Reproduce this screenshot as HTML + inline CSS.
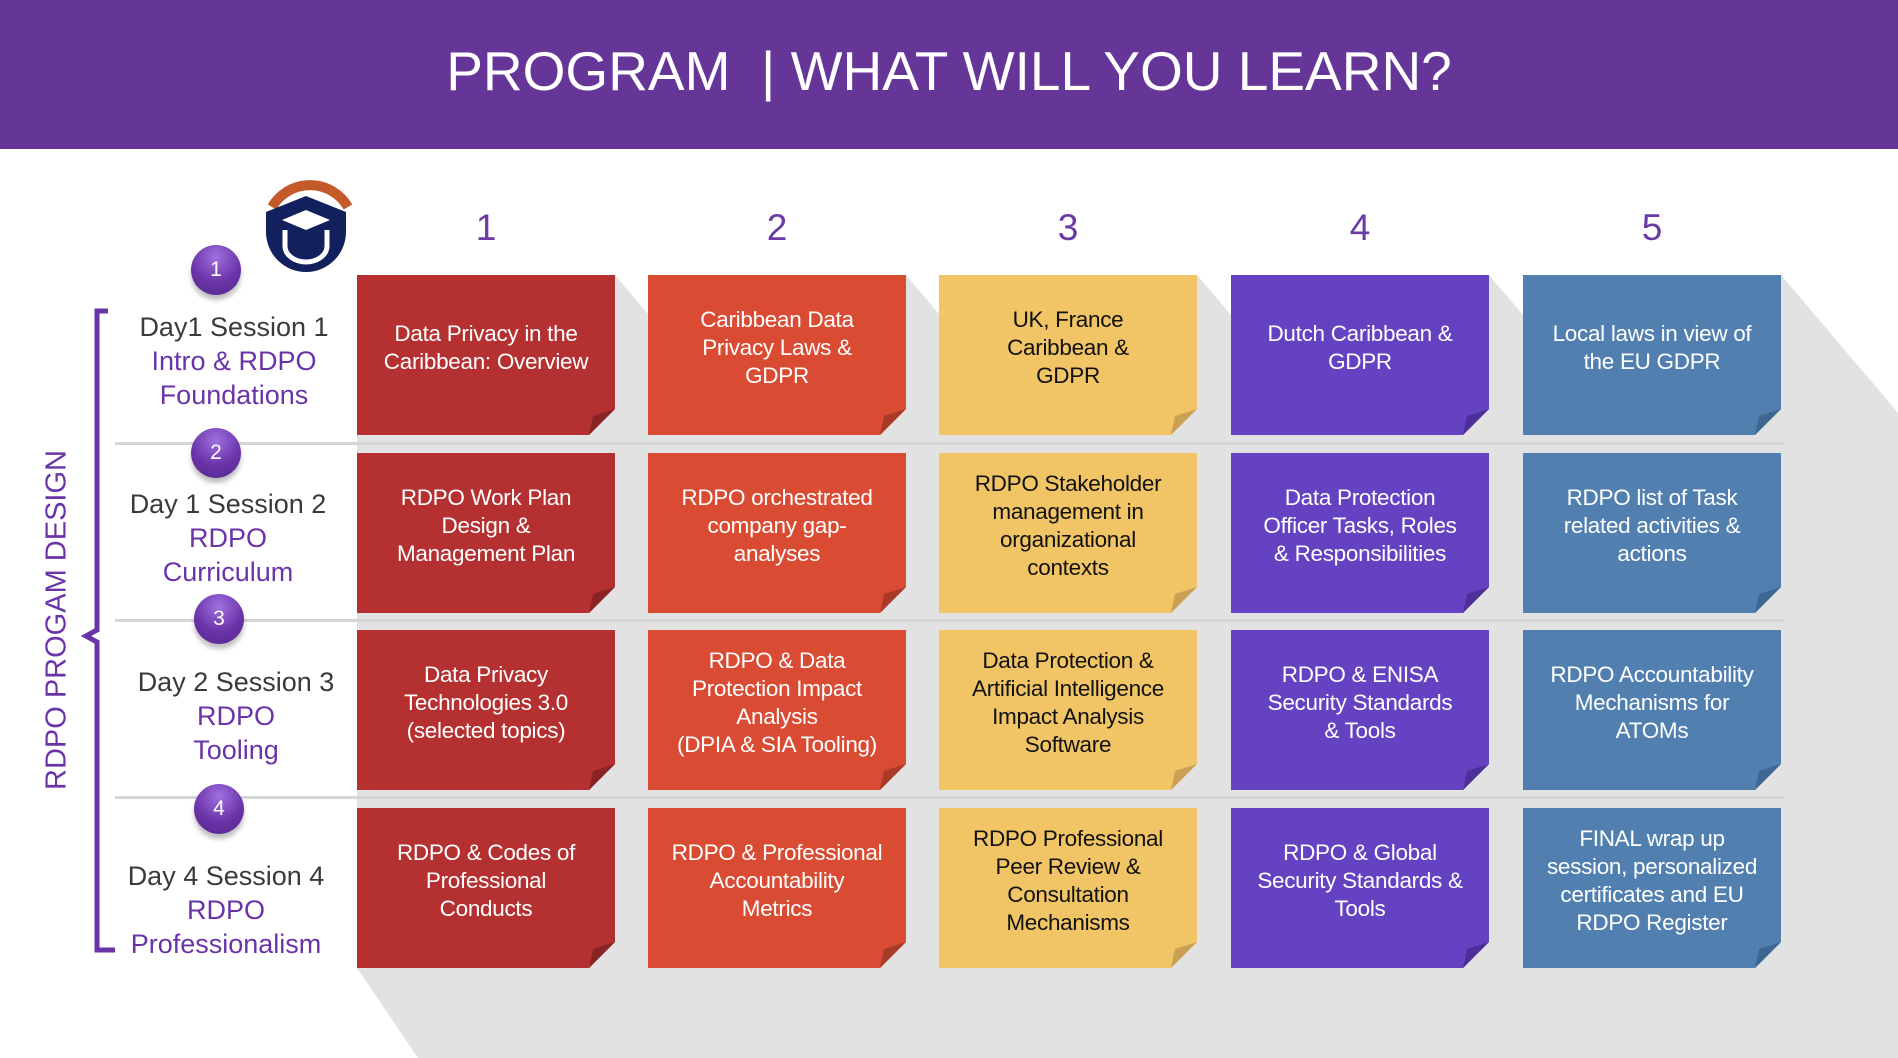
<!DOCTYPE html>
<html><head><meta charset="utf-8"><style>
*{margin:0;padding:0;box-sizing:border-box}
body{width:1898px;height:1058px;position:relative;overflow:hidden;background:#fff;font-family:"Liberation Sans","DejaVu Sans",sans-serif}
.hdr{position:absolute;left:0;top:0;width:1898px;height:149px;background:#663598;color:#fff;font-size:55px;text-align:center;line-height:142px}
.box{position:absolute;width:258px;height:160px;display:flex;align-items:center;justify-content:center;text-align:center;font-size:22.5px;line-height:28px;color:#fff;padding:0 4px 14px;white-space:nowrap;letter-spacing:-0.3px}
.num{position:absolute;top:207px;width:258px;text-align:center;font-size:37px;color:#6a3aa6}
.circ{position:absolute;width:50px;height:50px;border-radius:50%;background:radial-gradient(circle at 50% 25%,#a070e0,#6a34a8 55%,#55278e);color:#fff;font-size:21px;text-align:center;line-height:50px;box-shadow:0 5px 5px rgba(0,0,0,.25)}
.day{position:absolute;width:240px;text-align:center;font-size:27px;line-height:34px;color:#3a3a3a}
.day span{color:#6a34a8}
.line{position:absolute;left:115px;width:1670px;height:3px;background:#d6d6d6}
</style></head><body>
<svg width="1898" height="1058" style="position:absolute;left:0;top:0">
<g fill="#e2e2e2">
<polygon points="615,275 1280,1058 418,1058 357,968"/>
<polygon points="906,275 1571,1058 709,1058 648,968"/>
<polygon points="1197,275 1862,1058 1000,1058 939,968"/>
<polygon points="1489,275 2154,1058 1292,1058 1231,968"/>
<polygon points="1781,275 2446,1058 1584,1058 1523,968"/>
<rect x="357" y="330" width="1430" height="640"/>
</g>
<path d="M108,311 L97,311 L97,630 L86,636 L97,642 L97,950 L115,950" fill="none" stroke="#6a34a8" stroke-width="5"/>
<path d="M272,207 A44,44 0 0 1 348,207" fill="none" stroke="#c45a2a" stroke-width="10"/>
<path d="M266,212 L306,196 L346,212 L346,232 A40,40 0 0 1 266,232 Z" fill="#13205e"/>
<path d="M282,220 L306,210 L330,220 L306,230 Z" fill="#fff"/>
<path d="M285,230 L285,246 A21,16 0 0 0 327,246 L327,230" fill="none" stroke="#fff" stroke-width="5"/>
</svg>
<div class="hdr">PROGRAM &nbsp;| WHAT WILL YOU LEARN?</div>
<div style="position:absolute;left:57px;top:620px;transform:translate(-50%,-50%) rotate(-90deg);white-space:nowrap;font-size:29px;color:#6a34a8">RDPO PROGAM DESIGN</div>

<div class="line" style="top:442px"></div>
<div class="line" style="top:619px"></div>
<div class="line" style="top:796px"></div>

<div class="num" style="left:357px">1</div>
<div class="num" style="left:648px">2</div>
<div class="num" style="left:939px">3</div>
<div class="num" style="left:1231px">4</div>
<div class="num" style="left:1523px">5</div>

<div class="circ" style="left:191px;top:245px">1</div>
<div class="circ" style="left:191px;top:428px">2</div>
<div class="circ" style="left:194px;top:594px">3</div>
<div class="circ" style="left:194px;top:784px">4</div>

<div class="day" style="left:114px;top:310px">Day1 Session 1<br><span>Intro &amp; RDPO<br>Foundations</span></div>
<div class="day" style="left:108px;top:487px">Day 1 Session 2<br><span>RDPO<br>Curriculum</span></div>
<div class="day" style="left:116px;top:665px">Day 2 Session 3<br><span>RDPO<br>Tooling</span></div>
<div class="day" style="left:106px;top:859px">Day 4 Session 4<br><span>RDPO<br>Professionalism</span></div>

<div id="grid"></div>
<script>
var cols=[357,648,939,1231,1523],rows=[275,453,630,808];
var bg=['#b53030','#da4b33','#f1c566','#6442c2','#5180b0'];
var fold=['#8a2424','#a83a27','#c9a054','#4c2f98','#3d6690'];
var t=[
["Data Privacy in the<br>Caribbean: Overview","Caribbean Data<br>Privacy Laws &amp;<br>GDPR","UK, France<br>Caribbean &amp;<br>GDPR","Dutch Caribbean &amp;<br>GDPR","Local laws in view of<br>the EU GDPR"],
["RDPO Work Plan<br>Design &amp;<br>Management Plan","RDPO orchestrated<br>company gap-<br>analyses","RDPO Stakeholder<br>management in<br>organizational<br>contexts","Data Protection<br>Officer Tasks, Roles<br>&amp; Responsibilities","RDPO list of Task<br>related activities &amp;<br>actions"],
["Data Privacy<br>Technologies 3.0<br>(selected topics)","RDPO &amp; Data<br>Protection Impact<br>Analysis<br>(DPIA &amp; SIA Tooling)","Data Protection &amp;<br>Artificial Intelligence<br>Impact Analysis<br>Software","RDPO &amp; ENISA<br>Security Standards<br>&amp; Tools","RDPO Accountability<br>Mechanisms for<br>ATOMs"],
["RDPO &amp; Codes of<br>Professional<br>Conducts","RDPO &amp; Professional<br>Accountability<br>Metrics","RDPO Professional<br>Peer Review &amp;<br>Consultation<br>Mechanisms","RDPO &amp; Global<br>Security Standards &amp;<br>Tools","FINAL wrap up<br>session, personalized<br>certificates and EU<br>RDPO Register"]];
var h='';
for(var r=0;r<4;r++)for(var c=0;c<5;c++){
var x=cols[c],y=rows[r];
h+='<div class="box" style="left:'+x+'px;top:'+y+'px;background:'+bg[c]+';color:'+(c==2?'#111':'#fff')+';clip-path:polygon(0 0,100% 0,100% 134px,232px 100%,0 100%)"><div>'+t[r][c]+'</div></div>';
h+='<svg width="30" height="30" style="position:absolute;left:'+(x+230)+'px;top:'+(y+132)+'px"><polygon points="2,28 28,2 6,9" fill="'+fold[c]+'"/></svg>';
}
document.getElementById('grid').innerHTML=h;
</script>
</body></html>
